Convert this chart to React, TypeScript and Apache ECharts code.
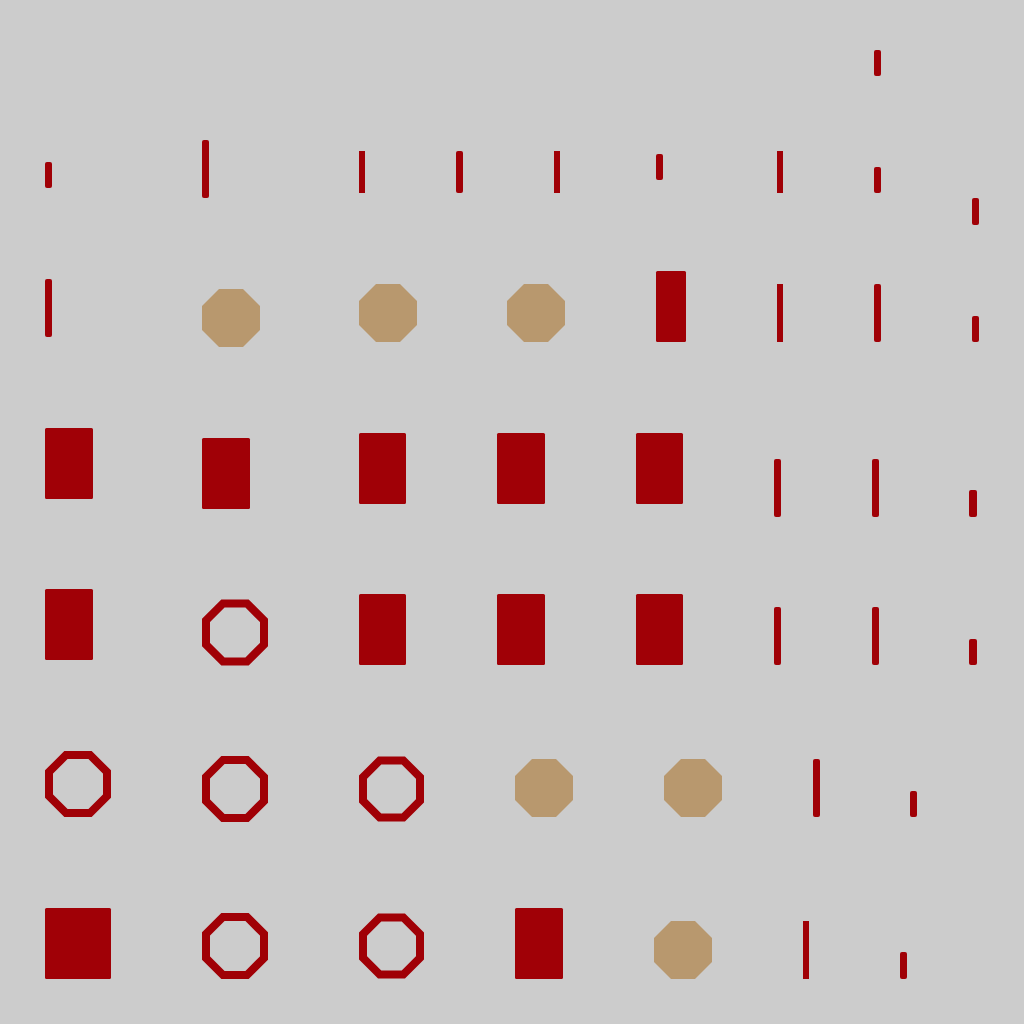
import { useEffect, useRef } from "react";
import * as echarts from "echarts";

const RED = "#a00006";
const TAN = "#b8986e";
const BG = "#cccccc";

// glyph kind per mark: bar (rounded), barSq (square ends), rect, tan (filled octagon), ring (outlined octagon)
const kinds = [
  "bar",
  "bar", "bar", "barSq", "bar", "barSq", "bar", "barSq", "bar", "bar",
  "bar", "tan", "tan", "tan", "rect", "barSq", "bar", "bar",
  "rect", "rect", "rect", "rect", "rect", "bar", "bar", "bar",
  "rect", "ring", "rect", "rect", "rect", "bar", "bar", "bar",
  "ring", "ring", "ring", "tan", "tan", "bar", "bar",
  "rect", "ring", "ring", "rect", "tan", "barSq", "bar",
];
const lefts = [
  874,
  45, 202, 359, 456, 554, 656, 777, 874, 972,
  45, 202, 359, 507, 656, 777, 874, 972,
  45, 202, 359, 497, 636, 774, 872, 969,
  45, 202, 359, 497, 636, 774, 872, 969,
  45, 202, 359, 515, 664, 813, 910,
  45, 202, 359, 515, 654, 803, 900,
];
const rights = [
  881,
  52, 209, 365, 463, 560, 663, 783, 881, 979,
  52, 260, 417, 565, 686, 783, 881, 979,
  93, 250, 406, 545, 683, 781, 879, 977,
  93, 268, 406, 545, 683, 781, 879, 977,
  111, 268, 424, 573, 722, 820, 917,
  111, 268, 424, 563, 712, 809, 907,
];
const tops = [
  50,
  162, 140, 151, 151, 151, 154, 151, 167, 198,
  279, 289, 284, 284, 271, 284, 284, 316,
  428, 438, 433, 433, 433, 459, 459, 490,
  589, 600, 594, 594, 594, 607, 607, 639,
  751, 756, 756, 759, 759, 759, 791,
  908, 913, 913, 908, 921, 921, 952,
];
const bottoms = [
  76,
  188, 198, 193, 193, 193, 180, 193, 193, 225,
  337, 347, 342, 342, 342, 342, 342, 342,
  499, 509, 504, 504, 504, 517, 517, 517,
  660, 665, 665, 665, 665, 665, 665, 665,
  817, 822, 822, 817, 817, 817, 817,
  979, 979, 979, 979, 979, 979, 979,
];

function octagon(cx: number, cy: number, h: number) {
  const a = h * Math.tan(Math.PI / 8);
  return [
    [-a, -h], [a, -h], [h, -a], [h, a],
    [a, h], [-a, h], [-h, a], [-h, -a],
  ].map(([dx, dy]) => [cx + dx, cy + dy]);
}

export default function App() {
  const ref = useRef<HTMLDivElement>(null);

  useEffect(() => {
    document.body.style.margin = "0";
    if (!ref.current) return;
    const chart = echarts.init(ref.current, null, { renderer: "svg" });

    const data = lefts.map((l, i) => [i, l, rights[i], tops[i], bottoms[i]]);

    chart.setOption({
      animation: false,
      backgroundColor: BG,
      grid: { left: 0, right: 0, top: 0, bottom: 0 },
      xAxis: { type: "value", min: 0, max: 1024, show: false },
      yAxis: { type: "value", min: 0, max: 1024, inverse: true, show: false },
      series: [
        {
          type: "custom",
          clip: false,
          encode: { x: [1, 2], y: [3, 4] },
          data,
          renderItem: (params: any, api: any) => {
            const kind = kinds[params.dataIndex];
            const p0 = api.coord([api.value(1), api.value(3)]);
            const p1 = api.coord([api.value(2), api.value(4)]);
            const x = p0[0];
            const y = p0[1];
            const w = p1[0] - p0[0];
            const h = p1[1] - p0[1];
            const cx = x + w / 2;
            const cy = y + h / 2;
            if (kind === "tan") {
              return {
                type: "polygon",
                shape: { points: octagon(cx, cy, w / 2) },
                style: { fill: TAN },
              };
            }
            if (kind === "ring") {
              return {
                type: "polygon",
                shape: { points: octagon(cx, cy, w / 2 - 4) },
                style: { fill: "none", stroke: RED, lineWidth: 8, lineJoin: "miter" },
              };
            }
            const r = kind === "bar" ? 2 : kind === "rect" ? 1.5 : 0;
            return {
              type: "rect",
              shape: { x, y, width: w, height: h, r },
              style: { fill: RED },
            };
          },
        },
      ],
    });

    return () => chart.dispose();
  }, []);

  return <div ref={ref} style={{ width: 1024, height: 1024 }} />;
}
